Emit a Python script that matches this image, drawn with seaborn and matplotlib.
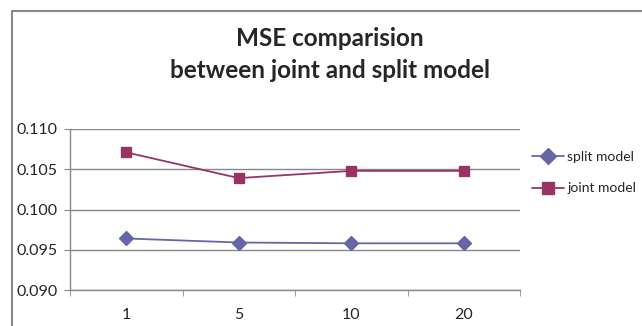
import pandas as pd
import numpy as np
import matplotlib
matplotlib.use('Agg')
import matplotlib.pyplot as plt
import seaborn as sns
from matplotlib.lines import Line2D
from matplotlib.ticker import FixedLocator

# values
steps = ['1', '5', '10', '20']
split_mse = [0.0964, 0.0959, 0.0958, 0.0958]
joint_mse = [0.1071, 0.1039, 0.1048, 0.1048]
series_names = ['split model', 'joint model']
y_ticks = [0.090, 0.095, 0.100, 0.105, 0.110]

df = pd.DataFrame({
    'step': steps * 2,
    'mse': split_mse + joint_mse,
    'model': [series_names[0]] * len(steps) + [series_names[1]] * len(steps),
})

sns.set_style('white')
plt.rcParams['font.family'] = ['Lato', 'DejaVu Sans']

grid_col = '#888888'
colors = ['#6666A6', '#993366']

fig = plt.figure(figsize=(6.42, 3.26), dpi=100)
ax = fig.add_axes([70 / 642, 1 - 290 / 326, 450 / 642, 161 / 326])

sns.pointplot(data=df, x='step', y='mse', hue='model', order=steps,
              hue_order=series_names, palette=colors, markers=['D', 's'],
              linestyles=['-', '-'], errorbar=None, markersize=7,
              linewidth=1.3, ax=ax, legend=False)

ax.set_xlim(-0.5, len(steps) - 0.5)
ax.set_ylim(0.090, 0.110)
ax.set_yticks(y_ticks)
ax.set_yticklabels([f'{v:.3f}' for v in y_ticks])
ax.yaxis.grid(True, color=grid_col, lw=1.0)
ax.set_axisbelow(True)
ax.set_xlabel('')
ax.set_ylabel('')

ax.xaxis.set_minor_locator(FixedLocator(np.arange(-0.5, len(steps), 1.0)))
ax.tick_params(axis='x', which='major', length=0, pad=13, labelsize=11.5)
ax.tick_params(axis='x', which='minor', length=4, color=grid_col, direction='out', bottom=True)
ax.tick_params(axis='y', length=4, color=grid_col, direction='out', left=True, labelsize=11.5, pad=5)

for side in ['top', 'right']:
    ax.spines[side].set_visible(False)
for side in ['left', 'bottom']:
    ax.spines[side].set_color(grid_col)
    ax.spines[side].set_linewidth(1.0)

handles = [Line2D([0], [0], color=c, marker=m, markersize=8, lw=1.3)
           for c, m in zip(colors, ['D', 's'])]
fig.legend(handles, series_names, loc='upper left', bbox_to_anchor=(532 / 642, 1 - 151 / 326),
           frameon=False, fontsize=10, handlelength=2.3, handletextpad=0.25,
           labelspacing=1.4, borderaxespad=0, borderpad=0)

fig.text(330 / 642, 1 - 38 / 326, 'MSE comparision', ha='center', va='center',
         fontsize=17.5, fontweight='bold')
fig.text(330 / 642, 1 - 70 / 326, 'between joint and split model', ha='center', va='center',
         fontsize=17.5, fontweight='bold')

# outer chart frame (only left and top edges visible in the crop)
fig.add_artist(Line2D([12 / 642, 12 / 642, 1.0], [0.0, 1 - 11 / 326, 1 - 11 / 326],
                      transform=fig.transFigure, color=grid_col, lw=1.5))

fig.savefig('out.png', dpi=100)
